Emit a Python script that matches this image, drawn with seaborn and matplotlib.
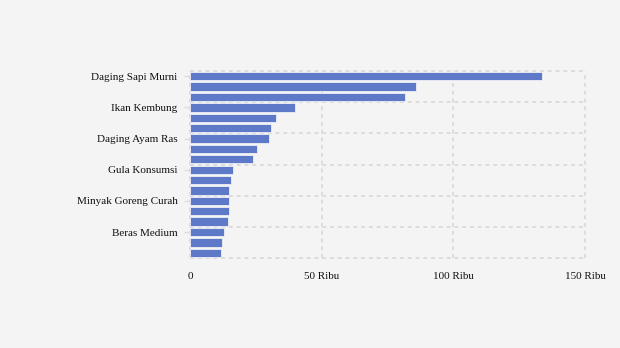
import matplotlib
matplotlib.use("Agg")
import matplotlib.pyplot as plt
import seaborn as sns
import pandas as pd
from matplotlib.ticker import FixedLocator

categories = [
    "Daging Sapi Murni", "Cabai Rawit Merah", "Cabai Merah Keriting",
    "Ikan Kembung", "Bawang Putih Bonggol", "Telur Ayam Ras",
    "Daging Ayam Ras", "Bawang Merah", "Cabai Merah Besar",
    "Gula Konsumsi", "Minyak Goreng Kemasan", "Kedelai Biji Kering",
    "Minyak Goreng Curah", "Tepung Terigu", "Beras Premium",
    "Beras Medium", "Jagung Pipilan", "Garam Halus",
]
values = [133.6, 85.8, 81.7, 39.9, 32.7, 30.8, 30.0, 25.4, 23.9,
          16.3, 15.6, 14.8, 14.8, 14.8, 14.4, 12.9, 12.2, 11.8]
x_ticks = [0, 50, 100, 150]
x_tick_labels = ["0", "50 Ribu", "100 Ribu", "150 Ribu"]

bg = "#f4f4f4"
sns.set_theme(style="white")
plt.rcParams["font.family"] = ["Liberation Serif", "DejaVu Serif"]

df = pd.DataFrame({"kategori": categories, "harga": values})

fig = plt.figure(figsize=(6.2, 3.48), dpi=100, facecolor=bg)
ax = fig.add_axes([190 / 620, 1 - 258 / 348, 395 / 620, 187 / 348])
ax.set_facecolor(bg)

sns.barplot(data=df, x="harga", y="kategori", orient="h", color="#5f79c9",
            saturation=1, width=0.8, edgecolor="#eef0f8", linewidth=0.6,
            ax=ax, zorder=3)

ax.set_xlim(0, 150)
ax.set_ylim(len(categories) - 0.5, -0.5)
ax.set_xticks(x_ticks)
ax.set_xticklabels(x_tick_labels, fontsize=8, color="#111111")
major_y = list(range(0, len(categories), 3))
ax.set_yticks(major_y)
ax.set_yticklabels([categories[i] for i in major_y], fontsize=8, color="#111111")
ax.yaxis.set_minor_locator(FixedLocator([i - 0.5 for i in range(0, len(categories) + 1, 3)]))

ax.set_xlabel("")
ax.set_ylabel("")
for s in ax.spines.values():
    s.set_visible(False)

ax.tick_params(axis="x", length=0, pad=10)
ax.tick_params(axis="y", which="major", length=4, width=1, color="#dddddd", pad=5, left=True)
ax.tick_params(axis="y", which="minor", length=0)

ax.grid(False)
gl = dict(color="#dcdcdc", linestyle=(0, (2, 2)), linewidth=1.4, zorder=0, clip_on=False)
ax.xaxis.grid(True, which="major", **gl)
ax.yaxis.grid(True, which="minor", **gl)
ax.set_axisbelow(True)

fig.savefig("out.png", dpi=100, facecolor=bg)
